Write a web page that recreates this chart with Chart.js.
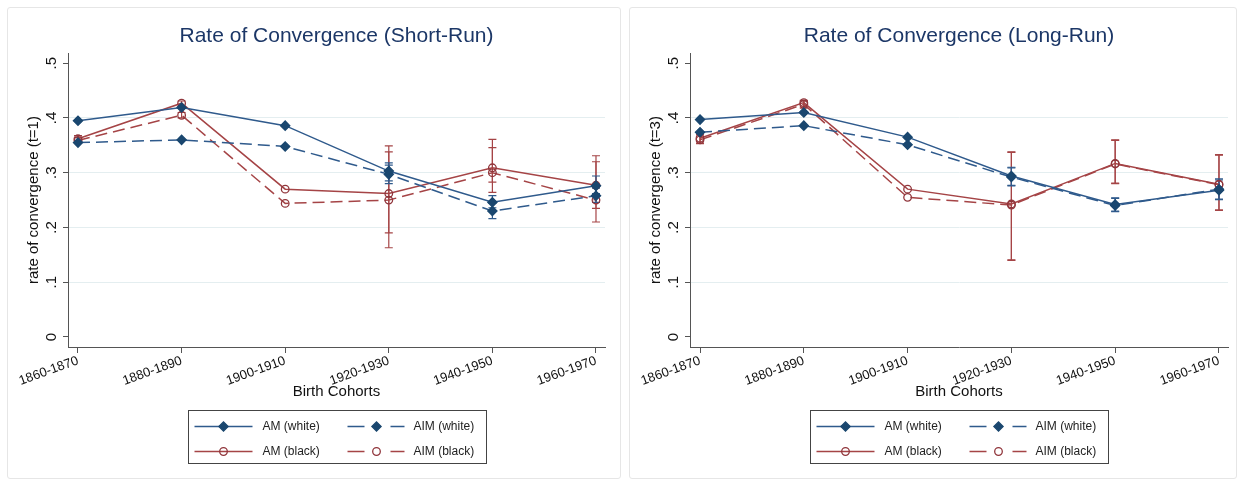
<!DOCTYPE html>
<html>
<head>
<meta charset="utf-8">
<script src="https://cdn.jsdelivr.net/npm/chart.js@4.4.1/dist/chart.umd.min.js"></script>
<style>
  html, body { margin: 0; padding: 0; background: #fff; }
  body { width: 1243px; height: 485px; position: relative; overflow: hidden; }
  .panel { position: absolute; top: 7px; height: 470px; border: 1px solid #e6e6e6; border-radius: 3px; }
  #p1 { left: 7px; width: 612px; }
  #p2 { left: 629px; width: 606px; }
</style>
</head>
<body>
<div class="panel" id="p1"><canvas id="short"></canvas></div>
<div class="panel" id="p2"><canvas id="long"></canvas></div>
<script>
const cohorts = ["1860-1870", "1880-1890", "1900-1910", "1920-1930", "1940-1950", "1960-1970"];
const yTicks = [0, 0.1, 0.2, 0.3, 0.4, 0.5];
const seriesNames = ["AM (white)", "AIM (white)", "AM (black)", "AIM (black)"];

// short-run, t=1
const amWhite1 = [0.395, 0.419, 0.386, 0.303, 0.246, 0.276];
const aimWhite1 = [0.355, 0.360, 0.348, 0.297, 0.230, 0.258];
const amBlack1 = [0.362, 0.427, 0.270, 0.262, 0.309, 0.277];
const aimBlack1 = [0.359, 0.405, 0.244, 0.250, 0.300, 0.250];
const amWhite1Lo = [null, null, null, 0.285, 0.236, 0.262];
const amWhite1Hi = [null, null, null, 0.318, 0.258, 0.294];
const aimWhite1Lo = [null, null, null, 0.280, 0.216, 0.246];
const aimWhite1Hi = [null, null, null, 0.314, 0.244, 0.272];
const amBlack1Lo = [0.356, 0.421, null, 0.190, 0.264, 0.235];
const amBlack1Hi = [0.368, 0.431, null, 0.349, 0.361, 0.320];
const aimBlack1Lo = [0.354, 0.400, null, 0.163, 0.283, 0.210];
const aimBlack1Hi = [0.364, 0.410, null, 0.338, 0.346, 0.331];

// long-run, t=3
const amWhite3 = [0.397, 0.410, 0.365, 0.294, 0.242, 0.268];
const aimWhite3 = [0.374, 0.386, 0.351, 0.292, 0.240, 0.270];
const amBlack3 = [0.363, 0.428, 0.270, 0.243, 0.317, 0.279];
const aimBlack3 = [0.360, 0.425, 0.255, 0.241, 0.316, 0.278];
const amWhite3Lo = [null, null, null, 0.277, 0.230, 0.251];
const amWhite3Hi = [null, null, null, 0.310, 0.254, 0.289];
const aimWhite3Lo = [null, null, null, 0.276, 0.229, 0.252];
const aimWhite3Hi = [null, null, null, 0.309, 0.253, 0.287];
const amBlack3Lo = [0.354, 0.420, null, 0.140, 0.281, 0.231];
const amBlack3Hi = [0.370, 0.432, null, 0.338, 0.360, 0.333];
const aimBlack3Lo = [0.353, 0.418, null, 0.141, 0.280, 0.232];
const aimBlack3Hi = [0.369, 0.431, null, 0.337, 0.359, 0.332];

const FONT = "'Liberation Sans', Arial, Helvetica, sans-serif";
Chart.defaults.font.family = FONT;
Chart.defaults.color = "#111";

const BLUE = "#2f5a8c", BLUE_MK = "#1a476f", RED = "#a54446", RED_MK = "#90353b";
const styles = [
  { color: BLUE, mk: BLUE_MK, dash: [], point: "rectRot", r: 4.6, fill: BLUE_MK },
  { color: BLUE, mk: BLUE_MK, dash: [12, 6], point: "rectRot", r: 4.6, fill: BLUE_MK },
  { color: RED, mk: RED_MK, dash: [], point: "circle", r: 3.8, fill: "rgba(0,0,0,0)" },
  { color: RED, mk: RED_MK, dash: [12, 6], point: "circle", r: 3.8, fill: "rgba(0,0,0,0)" },
];

const pts = (vals) => vals.map((v, i) => ({ x: i, y: v }));
function errPts(lo, hi) {
  const out = [];
  lo.forEach((l, i) => {
    if (l == null) return;
    out.push({ x: i, y: l }, { x: i, y: hi[i] }, { x: i, y: null });
  });
  return out;
}
const fmtY = (v) => (v === 0 ? "0" : v.toFixed(1).replace(/^0/, ""));

// framed 2x2 legend under the plot, like Stata's
const boxLegend = {
  id: "boxLegend",
  afterDraw(chart) {
    const { ctx, chartArea } = chart;
    const w = 298, h = 53;
    const x0 = Math.round((chartArea.left + chartArea.right) / 2 - w / 2) + 0.5;
    const y0 = Math.round(chartArea.bottom + 63) + 0.5;
    ctx.save();
    ctx.strokeStyle = "#444";
    ctx.lineWidth = 1;
    ctx.strokeRect(x0, y0, w, h);
    ctx.font = "12px " + FONT;
    ctx.textBaseline = "middle";
    seriesNames.forEach((name, i) => {
      const st = styles[i];
      const col = i % 2, row = Math.floor(i / 2);
      const lx = x0 + (col ? 159 : 6);
      const y = Math.round(y0 + (row ? 40 : 15)) + 0.5;
      ctx.strokeStyle = st.color;
      ctx.lineWidth = 1.5;
      ctx.beginPath();
      if (st.dash.length) {
        ctx.moveTo(lx, y); ctx.lineTo(lx + 17, y);
        ctx.moveTo(lx + 43, y); ctx.lineTo(lx + 57, y);
      } else {
        ctx.moveTo(lx, y); ctx.lineTo(lx + 58, y);
      }
      ctx.stroke();
      ctx.fillStyle = st.fill;
      ctx.strokeStyle = st.mk;
      ctx.lineWidth = 1.3;
      Chart.helpers.drawPoint(ctx, { pointStyle: st.point, radius: st.r, rotation: 0, borderWidth: 1.3 }, lx + 29, y);
      ctx.fillStyle = "#222";
      ctx.fillText(name, x0 + (col ? 225 : 74), y);
    });
    ctx.restore();
  },
};

function makeChart(id, title, yTitle, vals, lows, highs, padRight) {
  const datasets = vals.map((v, i) => ({
    label: seriesNames[i],
    data: pts(v),
    borderColor: styles[i].color,
    borderWidth: 1.5,
    borderDash: styles[i].dash,
    pointStyle: styles[i].point,
    pointRadius: styles[i].r,
    pointBackgroundColor: styles[i].fill,
    pointBorderColor: styles[i].mk,
    pointBorderWidth: 1.3,
    fill: false,
  }));
  vals.forEach((v, i) => {
    datasets.push({
      label: "",
      data: errPts(lows[i], highs[i]),
      borderColor: styles[i].color,
      borderWidth: 1.2,
      pointStyle: "line",
      pointRadius: 4,
      pointBorderColor: styles[i].color,
      pointBorderWidth: 1.2,
      spanGaps: false,
      fill: false,
    });
  });

  return new Chart(document.getElementById(id), {
    type: "line",
    data: { datasets },
    options: {
      responsive: true,
      maintainAspectRatio: false,
      animation: false,
      events: [],
      layout: { padding: { left: 0, right: padRight, top: 0, bottom: 76 } },
      plugins: {
        legend: { display: false },
        tooltip: { enabled: false },
        title: {
          display: true,
          text: title,
          fullSize: false,
          color: "#1c3767",
          font: { size: 21, weight: "normal" },
          padding: { top: 16, bottom: 4 },
        },
      },
      scales: {
        x: {
          type: "linear",
          min: -0.0965,
          max: 5.087,
          afterBuildTicks: (s) => { s.ticks = cohorts.map((c, i) => ({ value: i })); },
          afterFit: (s) => { s.height = 55; },
          ticks: {
            autoSkip: false,
            minRotation: 20,
            maxRotation: 20,
            padding: 0,
            font: { size: 13 },
            color: "#111",
            callback: (v) => cohorts[v],
          },
          grid: { drawOnChartArea: false, tickColor: "#555", tickLength: 6 },
          border: { color: "#555", width: 1 },
          title: { display: true, text: "Birth Cohorts", font: { size: 15 }, color: "#111", padding: { top: 0, bottom: 1 } },
        },
        y: {
          min: -0.0183,
          max: 0.5183,
          afterBuildTicks: (s) => { s.ticks = yTicks.map((v) => ({ value: v })); },
          afterFit: (s) => { s.width = 60; },
          ticks: {
            minRotation: 90,
            maxRotation: 90,
            crossAlign: "center",
            padding: 5,
            font: { size: 15 },
            color: "#111",
            callback: (v) => fmtY(v),
          },
          grid: {
            color: (c) => (c.tick && (c.tick.value === 0 || c.tick.value === 0.5) ? "rgba(0,0,0,0)" : "#e4eef0"),
            tickColor: "#555",
            tickLength: 5,
          },
          border: { color: "#555", width: 1 },
          title: { display: true, text: yTitle, font: { size: 15 }, color: "#111", padding: { top: 17, bottom: 0 } },
        },
      },
    },
    plugins: [boxLegend],
  });
}

makeChart("short", "Rate of Convergence (Short-Run)", "rate of convergence (t=1)",
  [amWhite1, aimWhite1, amBlack1, aimBlack1],
  [amWhite1Lo, aimWhite1Lo, amBlack1Lo, aimBlack1Lo],
  [amWhite1Hi, aimWhite1Hi, amBlack1Hi, aimBlack1Hi], 15);

makeChart("long", "Rate of Convergence (Long-Run)", "rate of convergence (t=3)",
  [amWhite3, aimWhite3, amBlack3, aimBlack3],
  [amWhite3Lo, aimWhite3Lo, amBlack3Lo, aimBlack3Lo],
  [amWhite3Hi, aimWhite3Hi, amBlack3Hi, aimBlack3Hi], 8);
</script>
</body>
</html>
